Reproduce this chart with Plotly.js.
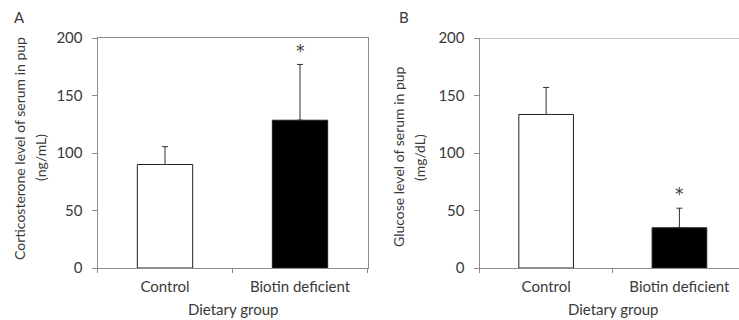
<!DOCTYPE html>
<html>
<head>
<meta charset="utf-8">
<script src="https://cdn.plot.ly/plotly-3.0.1.min.js"></script>
<style>html,body{margin:0;padding:0;background:#fff;}#chart{width:739px;height:320px;}</style>
</head>
<body>
<div id="chart"></div>
<script>
// Data
const categories = ["Control", "Biotin deficient"];
const corticosteroneMean = [90, 128.5];
const corticosteroneSD = [15.5, 48.5];
const glucoseMean = [133.5, 35];
const glucoseSD = [23.5, 17];
const significant = ["", "*"];
const barColors = ["#ffffff", "#000000"];
const tickValsY = [0, 50, 100, 150, 200];

const W = 739, H = 320;
const px = v => v / W;
const py = v => (H - v) / H;
const FONT = "Lato, 'Liberation Sans', sans-serif";
const TXT = "#3a3a3a";
const AX = "#8c8c8c";
const FS = 15;

function barTrace(means, sds, xa, ya) {
  return {
    type: "bar",
    x: categories,
    y: means,
    xaxis: xa, yaxis: ya,
    width: 0.41,
    marker: {color: barColors, line: {color: "#202020", width: 1}},
    error_y: {type: "data", symmetric: false, array: sds, arrayminus: sds.map(() => 0),
              color: "#303030", thickness: 1, width: 3},
    showlegend: false,
    hoverinfo: "skip"
  };
}

const data = [
  barTrace(corticosteroneMean, corticosteroneSD, "x", "y"),
  barTrace(glucoseMean, glucoseSD, "x2", "y2")
];

function xAx(domain, range) {
  return {
    domain: domain, type: "category", range: range,
    showline: true, linecolor: AX, linewidth: 1,
    ticks: "outside", tickson: "boundaries", ticklen: 4, tickcolor: AX,
    showgrid: false, zeroline: false,
    tickfont: {family: FONT, size: FS, color: TXT},
    ticklabelstandoff: 5,
    fixedrange: true
  };
}
function yAx(anchor, mirror) {
  return {
    domain: [py(268), py(38)], range: [0, 200], anchor: anchor,
    tickvals: tickValsY, showline: true, linecolor: AX, linewidth: 1,
    mirror: mirror,
    ticks: "outside", ticklen: 5, tickcolor: AX,
    showgrid: false, zeroline: false,
    tickfont: {family: FONT, size: FS, color: TXT},
    ticklabelstandoff: 6,
    fixedrange: true
  };
}

const xa = xAx([px(97.5), px(367.5)], [-0.5, 1.5]);
xa.mirror = true; xa.anchor = "y";
const xb = xAx([px(479.5), 1], [-0.5, 1.447]);
xb.anchor = "y2";
const ya = yAx("x", true);
const yb = yAx("x2", false);

function stars(means, sds, xr, yr) {
  return categories.map((c, i) => ({
    xref: xr, yref: yr, x: c, y: means[i] + sds[i] + 12,
    text: significant[i], showarrow: false, xanchor: "center", yanchor: "middle",
    font: {family: "'DejaVu Sans', sans-serif", size: 17, color: TXT}
  })).filter(a => a.text);
}

function lab(text, x, y, angle, size, yanchor) {
  const a = {text: text, xref: "paper", yref: "paper", x: px(x), y: py(y),
    xanchor: "center", yanchor: yanchor || "middle", showarrow: false,
    font: {family: FONT, size: size || FS, color: TXT}};
  if (angle) a.textangle = angle;
  return a;
}

const ann = [
  lab("A", 19, 17), lab("B", 404, 17),
  lab("Corticosterone level of serum in pup", 19, 149, -90, 14),
  lab("(ng/mL)", 40, 158, -90, 14),
  lab("Glucose level of serum in pup", 398, 157, -90, 14),
  lab("(mg/dL)", 419, 158, -90, 14),
  lab("Dietary group", 233, 320, 0, FS, "bottom"),
  lab("Dietary group", 613, 320, 0, FS, "bottom")
].concat(stars(corticosteroneMean, corticosteroneSD, "x", "y"))
 .concat(stars(glucoseMean, glucoseSD, "x2", "y2"));

const layout = {
  width: W, height: H,
  margin: {l: 0, r: 0, t: 0, b: 0},
  paper_bgcolor: "#fff", plot_bgcolor: "#fff",
  xaxis: xa, yaxis: ya, xaxis2: xb, yaxis2: yb,
  annotations: ann,
  shapes: [{type: "line", xref: "x2 domain", yref: "y2", x0: 0, x1: 1, y0: 200, y1: 200,
            line: {color: AX, width: 1}}],
  bargap: 0.5
};

Plotly.newPlot("chart", data, layout, {displayModeBar: false, staticPlot: true});
</script>
</body>
</html>
